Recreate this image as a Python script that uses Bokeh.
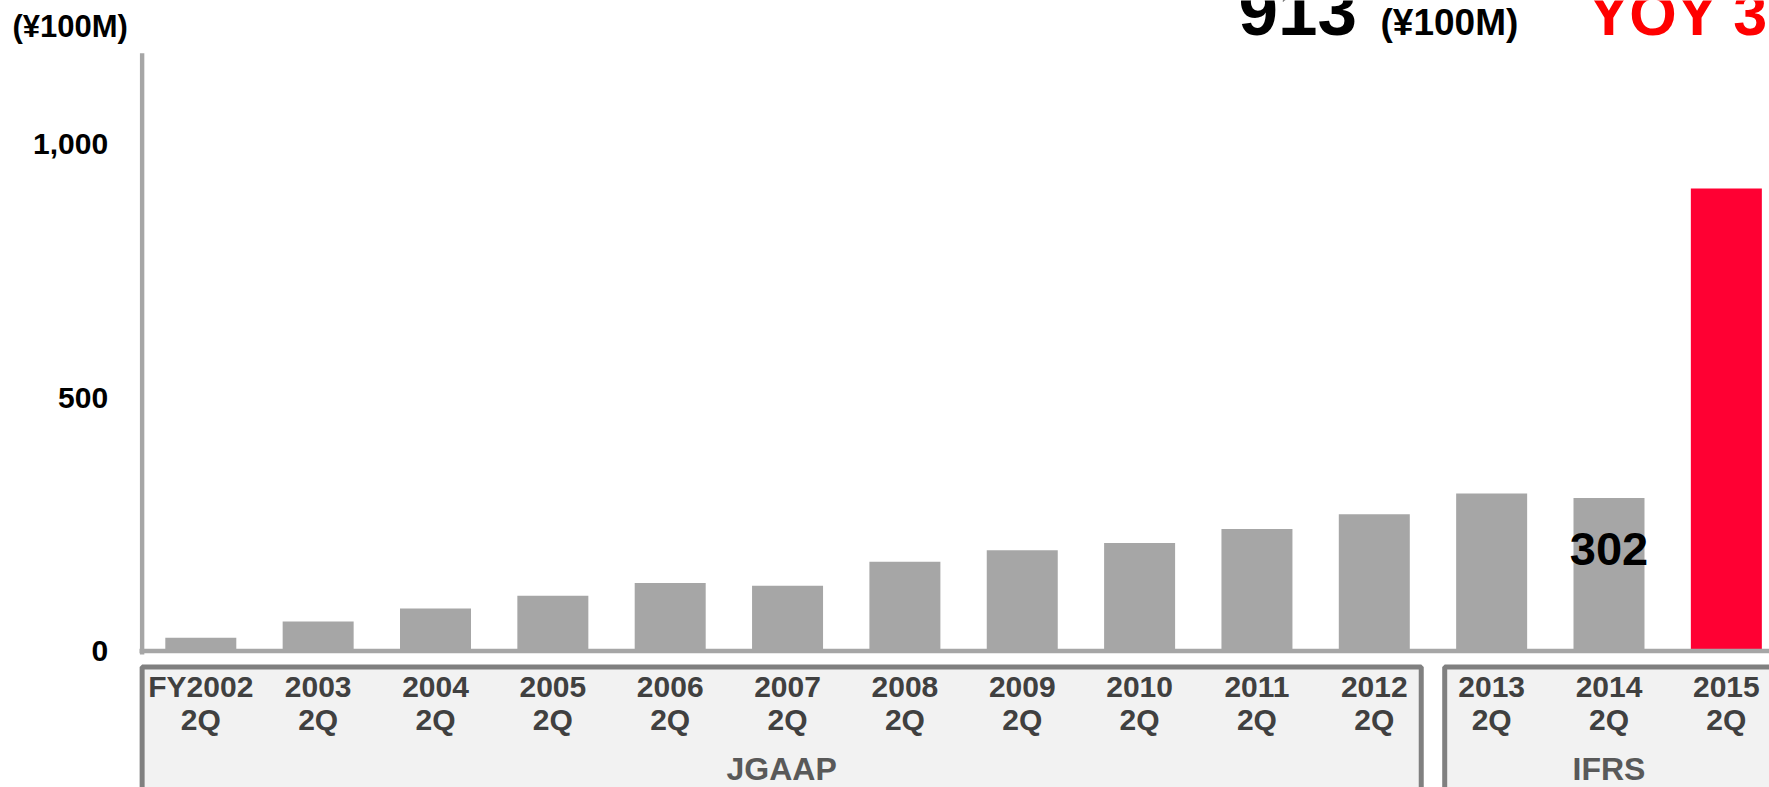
import numpy as np
from bokeh.plotting import figure
from bokeh.models import Range1d, LinearAxis, FixedTicker, NumeralTickFormatter
from bokeh.core.properties import value
from bokeh.embed import file_html
from bokeh.resources import INLINE

# ---------------- data ----------------
years = ["FY2002", "2003", "2004", "2005", "2006", "2007", "2008",
         "2009", "2010", "2011", "2012", "2013", "2014", "2015"]
quarters = ["2Q"] * 14
values = [26, 58, 84, 109, 134, 129, 176, 199, 213, 241, 270, 311, 302, 913]
groups = ["JGAAP", "IFRS"]
group_first = [0, 11]
group_last = [10, 13]
y_ticks = [0, 500, 1000]
unit_text = "(¥100M)"
yoy_text = "YOY 302%"

# ---------------- layout constants ----------------
W, H = 1769, 787
CAT0_PX, PX_PER_CAT = 200.3, 117.35
ZERO_PX, PX_PER_UNIT = 650.5, 0.5067

def xpx(px):
    return (px - CAT0_PX) / PX_PER_CAT

def ypx(py):
    return (ZERO_PX - py) / PX_PER_UNIT

FONT = value("Liberation Sans")
GRAY = "#a6a6a6"
RED = "#ff0033"

p = figure(width=W, height=H, output_backend="svg", toolbar_location=None,
           x_axis_type=None, y_axis_type=None,
           x_range=Range1d(xpx(0), xpx(W)), y_range=Range1d(ypx(H), ypx(0)),
           min_border_left=0, min_border_right=0,
           min_border_top=0, min_border_bottom=0)
p.outline_line_color = None
p.background_fill_color = "white"
p.border_fill_color = "white"
p.xgrid.visible = False
p.ygrid.visible = False

# y axis (labels only), placed at the category-0 left edge
yax = LinearAxis(ticker=FixedTicker(ticks=y_ticks),
                 formatter=NumeralTickFormatter(format="0,0"),
                 fixed_location=-0.5)
yax.axis_line_color = None
yax.major_tick_line_color = None
yax.minor_tick_line_color = None
yax.major_tick_out = 0
yax.major_tick_in = 0
yax.major_label_standoff = 34
yax.major_label_text_font = "Liberation Sans"
yax.major_label_text_font_style = "bold"
yax.major_label_text_font_size = "30px"
yax.major_label_text_color = "black"
p.add_layout(yax, "left")

idx = np.arange(len(years))
colors = [GRAY] * (len(values) - 1) + [RED]

# bars
p.vbar(x=idx, top=values, bottom=0, width=0.605, fill_color=colors, line_color=None)

# axis lines
p.segment(x0=[-0.5], y0=[ypx(654)], x1=[-0.5], y1=[ypx(52.7)], line_color=GRAY, line_width=4.4)
p.segment(x0=[xpx(139)], y0=[0], x1=[xpx(W + 10)], y1=[0], line_color=GRAY, line_width=4.5)

# group boxes
box_left = [group_first[0] - 0.5, group_first[1] - 0.4]
box_right = [group_last[0] + 0.4, group_last[1] + 0.4]
p.quad(left=box_left, right=box_right, top=[ypx(666.5)] * 2, bottom=[ypx(H + 40)] * 2,
       fill_color="#f2f2f2", line_color="#808080", line_width=5)

# category labels
p.text(x=idx, y=[ypx(686)] * len(idx), text=years, text_font=FONT, text_font_style="bold",
       text_font_size="30px", text_color="#404040", text_align="center", text_baseline="middle")
p.text(x=idx, y=[ypx(719)] * len(idx), text=quarters, text_font=FONT, text_font_style="bold",
       text_font_size="30px", text_color="#404040", text_align="center", text_baseline="middle")

# group labels
gx = [(l + r) / 2 for l, r in zip(box_left, box_right)]
p.text(x=gx, y=[ypx(768)] * 2, text=groups, text_font=FONT, text_font_style="bold",
       text_font_size="32px", text_color="#595959", text_align="center", text_baseline="middle")

# value label for previous year
prev = len(values) - 2
p.text(x=[idx[prev]], y=[values[prev]], text=[f"{values[prev]:,}"], y_offset=51,
       text_font=FONT, text_font_style="bold", text_font_size="47px", text_color="black",
       text_align="center", text_baseline="middle")

# header texts
def header(text, left_px, mid_px, size, color="black"):
    p.text(x=[xpx(left_px)], y=[ypx(mid_px)], text=[text], text_font=FONT,
           text_font_style="bold", text_font_size=size, text_color=color,
           text_align="left", text_baseline="middle")

header(unit_text, 12, 26, "31px")
header(f"{values[-1]:,}", 1238, 10, "71px")
header(unit_text, 1380, 22, "37px")
header(yoy_text, 1588, 13, "61px", "#ff0000")

open("out.html", "w").write(file_html(p, INLINE))
